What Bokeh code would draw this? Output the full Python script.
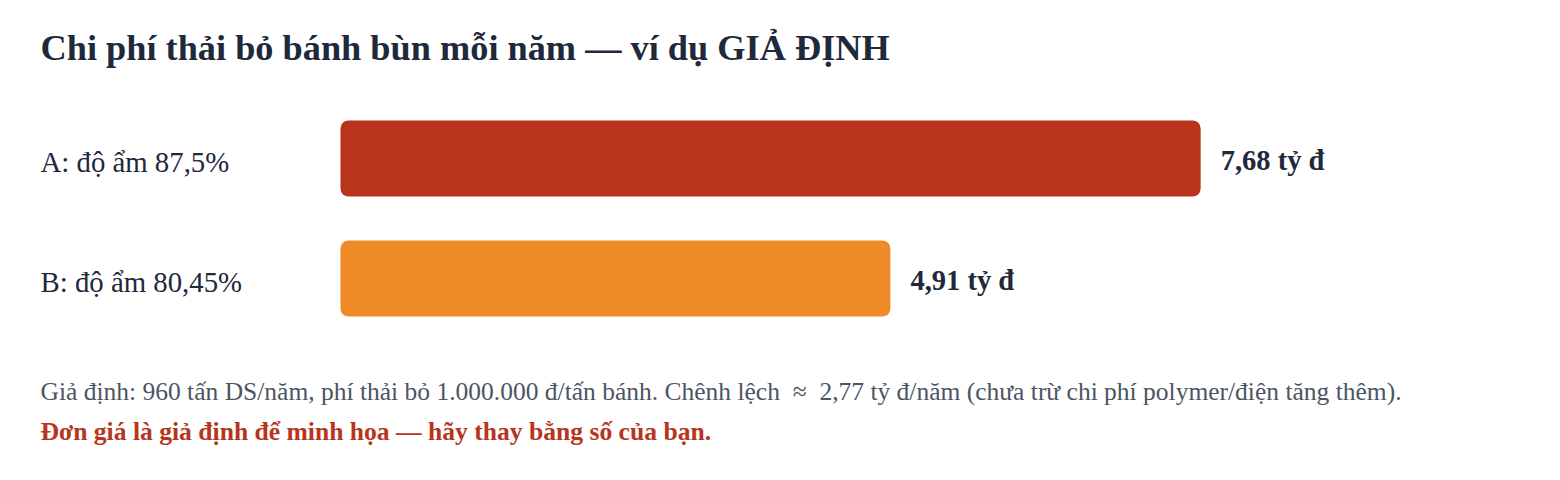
from bokeh.plotting import figure
from bokeh.models import Range1d, Label, ColumnDataSource
from bokeh.core.properties import value
from bokeh.embed import file_html
from bokeh.resources import INLINE

# ---- data ----
categories = ["A: độ ẩm 87,5%", "B: độ ẩm 80,45%"]
costs = [7.68, 4.91]  # tỷ đ / năm
value_labels = ["7,68 tỷ đ", "4,91 tỷ đ"]
bar_colors = ["#B8341C", "#EF8B26"]
title_text = "Chi phí thải bỏ bánh bùn mỗi năm — ví dụ GIẢ ĐỊNH"
note_text = ("Giả định: 960 tấn DS/năm, phí thải bỏ 1.000.000 đ/tấn bánh. "
             "Chênh lệch \u00a0≈\u00a0 2,77 tỷ đ/năm (chưa trừ chi phí polymer/điện tăng thêm).")
warn_text = "Đơn giá là giả định để minh họa — hãy thay bằng số của bạn."

FONT = "Liberation Serif"
DARK = "#1E293B"
GREY = "#4B5563"
RED = "#B7351C"

W, H = 1544, 464
px_per_unit = 112.0
x0_px = 340.0
row_px = 120.0
row0_center = 158.0

rows = list(range(len(categories)))
src = ColumnDataSource(dict(y=rows, right=costs, cat=categories, lab=value_labels,
                            color=bar_colors, zero=[0] * len(rows)))

p = figure(width=W, height=H, output_backend="svg", toolbar_location=None,
           x_range=Range1d(-x0_px / px_per_unit, (W - x0_px) / px_per_unit),
           y_range=Range1d((H - row0_center) / row_px, -row0_center / row_px),
           min_border=0, border_fill_color="white", background_fill_color="white")
p.axis.visible = False
p.grid.visible = False
p.outline_line_color = None

p.hbar(y="y", left=0, right="right", height=76 / row_px, color="color", line_color=None,
       border_radius=8, source=src)

p.text(x="zero", y="y", text="cat", source=src, x_offset=-300, y_offset=3,
       text_font=value(FONT), text_font_size="28.8px", text_color=DARK,
       text_baseline="alphabetic", text_align="left")
p.text(x="right", y="y", text="lab", source=src, x_offset=20, y_offset=2,
       text_font=value(FONT), text_font_size="28.5px", text_font_style="bold",
       text_color=DARK, text_baseline="alphabetic", text_align="left")

p.add_layout(Label(x=40, y=H - 47, x_units="screen", y_units="screen", text=title_text,
                   text_font=FONT, text_font_size="36.3px", text_font_style="bold",
                   text_color=DARK, text_baseline="alphabetic"))
p.add_layout(Label(x=40, y=H - 390.5, x_units="screen", y_units="screen", text=note_text,
                   text_font=FONT, text_font_size="25.5px", text_color=GREY,
                   text_baseline="alphabetic"))
p.add_layout(Label(x=40, y=H - 430.5, x_units="screen", y_units="screen", text=warn_text,
                   text_font=FONT, text_font_size="25.6px", text_font_style="bold",
                   text_color=RED, text_baseline="alphabetic"))

open("out.html", "w").write(file_html(p, INLINE))
